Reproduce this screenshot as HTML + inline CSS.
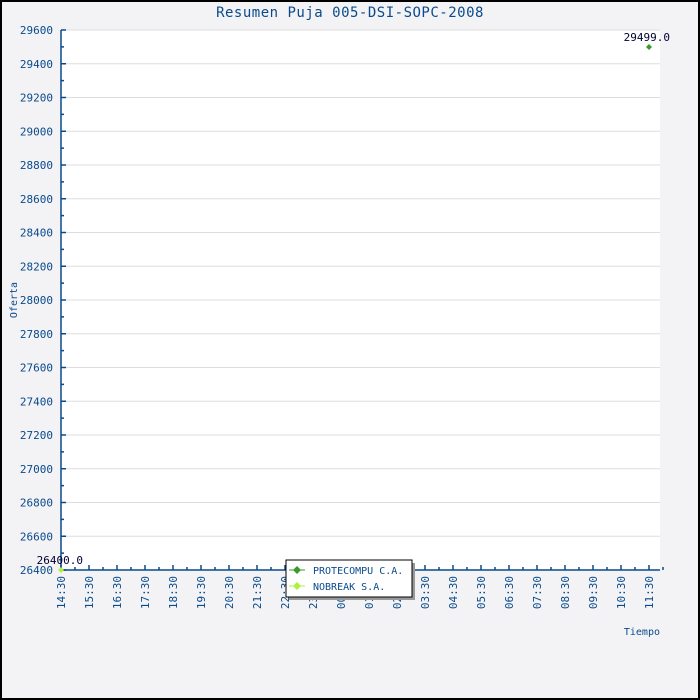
<!DOCTYPE html>
<html><head><meta charset="utf-8"><style>
html,body{margin:0;padding:0;background:#f3f3f5}
svg{display:block}
text{font-family:"DejaVu Sans Mono","Liberation Mono",monospace;font-size:11px;fill:#0a4a8c}
</style></head><body>
<svg id="c" width="700" height="700" xmlns="http://www.w3.org/2000/svg">
<rect x="1" y="1" width="698" height="698" fill="#f3f3f5" stroke="#000" stroke-width="2"/>
<rect x="61" y="30" width="599" height="540" fill="#fff"/>
<g id="g"></g>
<text x="350" y="17" text-anchor="middle" style="font-size:14px;letter-spacing:0.5px">Resumen Puja 005-DSI-SOPC-2008</text>
<text transform="translate(17,300) rotate(-90)" text-anchor="middle" style="font-size:10px">Oferta</text>
<text x="660" y="635" text-anchor="end" style="font-size:10px">Tiempo</text>
<text x="83" y="564" text-anchor="end" style="fill:#000033">26400.0</text>
<text x="670" y="41" text-anchor="end" style="fill:#000033">29499.0</text>
<path d="M649 44 l3 3 l-3 3 l-3 -3z" fill="#3a9a2a"/>
<path d="M61 567 l3 3 l-3 3 l-3 -3z" fill="#b0f040"/>
<rect x="289" y="563" width="126" height="37" fill="#999"/>
<rect x="286" y="560" width="126" height="37" fill="#fff" stroke="#000"/>
<line x1="289" y1="570" x2="305" y2="570" stroke="#3a9a2a"/>
<path d="M297 566 l4 4 l-4 4 l-4 -4z" fill="#3a9a2a"/>
<text x="313" y="574" style="font-size:10px">PROTECOMPU C.A.</text>
<line x1="289" y1="586" x2="305" y2="586" stroke="#b0f040"/>
<path d="M297 582 l4 4 l-4 4 l-4 -4z" fill="#b0f040"/>
<text x="313" y="590" style="font-size:10px">NOBREAK S.A.</text>
</svg>
<script>
var g=document.getElementById('g'),s='';
for(var i=0;i<=16;i++){var y=570-i*33.75,v=26400+i*200;
 if(i>0)s+='<line x1="61" x2="660" y1="'+y+'" y2="'+y+'" stroke="#ddd"/>';
 s+='<line x1="61" x2="66" y1="'+y+'" y2="'+y+'" stroke="#0a4a8c" stroke-width="1.5"/>';
 if(i<16)s+='<line x1="61" x2="64" y1="'+(y-16.875)+'" y2="'+(y-16.875)+'" stroke="#0a4a8c" stroke-width="1.5"/>';
 s+='<text x="53" y="'+(y+4)+'" text-anchor="end">'+v+'</text>';}
var hrs=[14,15,16,17,18,19,20,21,22,23,0,1,2,3,4,5,6,7,8,9,10,11];
for(var j=0;j<22;j++){var x=61+j*28;
 s+='<line x1="'+x+'" x2="'+x+'" y1="570" y2="565" stroke="#0a4a8c" stroke-width="1.5"/>';
 s+='<line x1="'+(x+14)+'" x2="'+(x+14)+'" y1="570" y2="567" stroke="#0a4a8c" stroke-width="1.5"/>';
 var h=(hrs[j]<10?'0':'')+hrs[j]+':30';
 s+='<text transform="translate('+(x+4)+',576) rotate(-90)" text-anchor="end">'+h+'</text>';}
s+='<line x1="61" x2="61" y1="30" y2="570" stroke="#0a4a8c" stroke-width="1.5"/><line x1="61" x2="660" y1="570" y2="570" stroke="#0a4a8c" stroke-width="1.5"/>';
g.innerHTML=s;
</script>
</body></html>
